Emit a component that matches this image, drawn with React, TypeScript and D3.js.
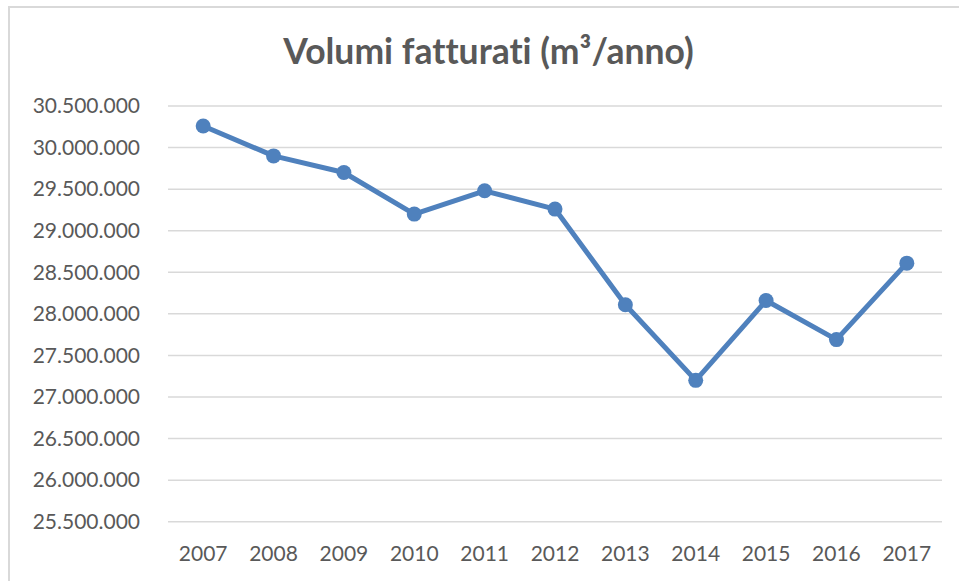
import React, { useRef, useEffect } from 'react';
import * as d3 from 'd3';

const years = ['2007', '2008', '2009', '2010', '2011', '2012', '2013', '2014', '2015', '2016', '2017'];
const volumes = [30260000, 29900000, 29700000, 29200000, 29480000, 29260000, 28110000, 27200000, 28160000, 27690000, 28610000];
const yTicks = [25500000, 26000000, 26500000, 27000000, 27500000, 28000000, 28500000, 29000000, 29500000, 30000000, 30500000];

const itLocale = d3.formatLocale({ decimal: ',', thousands: '.', grouping: [3], currency: ['€', ''] });
const fmt = itLocale.format(',d');

export default function App() {
    const ref = useRef<SVGSVGElement>(null);

    useEffect(() => {
        const svg = d3.select(ref.current);
        svg.selectAll('*').remove();

        const width = 959;
        const height = 581;
        const marginLeft = 168;
        const marginRight = 17;
        const plotTop = 106;
        const plotBottom = 521.7;
        const textColor = '#595959';
        const font = 'Lato, "Open Sans", sans-serif';

        svg.attr('width', width).attr('height', height);

        // chart frame (runs off the right/bottom edge in the reference)
        svg.append('rect')
            .attr('x', 9)
            .attr('y', 7)
            .attr('width', width + 20)
            .attr('height', height + 20)
            .attr('fill', 'white')
            .attr('stroke', '#d9d9d9')
            .attr('stroke-width', 2);

        const x = d3.scaleBand<string>()
            .domain(years)
            .range([marginLeft, width - marginRight]);

        const y = d3.scaleLinear()
            .domain([yTicks[0], yTicks[yTicks.length - 1]])
            .range([plotBottom, plotTop]);

        // title
        const title = svg.append('text')
            .attr('x', 488.5)
            .attr('y', 64)
            .attr('text-anchor', 'middle')
            .attr('fill', textColor)
            .attr('font-family', font)
            .attr('font-weight', 'bold')
            .attr('font-size', 35.5)
            .style('font-variant-ligatures', 'none');
        title.append('tspan').text('Volumi fatturati (m');
        title.append('tspan').text('³');
        title.append('tspan').text('/anno)');

        // gridlines
        svg.append('g')
            .selectAll('line')
            .data(yTicks)
            .join('line')
            .attr('x1', marginLeft)
            .attr('x2', width - marginRight)
            .attr('y1', d => y(d))
            .attr('y2', d => y(d))
            .attr('stroke', '#d9d9d9')
            .attr('stroke-width', 1.5);

        // y labels
        svg.append('g')
            .selectAll('text')
            .data(yTicks)
            .join('text')
            .attr('x', 140)
            .attr('y', d => y(d))
            .attr('dy', '0.35em')
            .attr('text-anchor', 'end')
            .attr('fill', textColor)
            .attr('font-family', font)
            .attr('font-size', 21)
            .text(d => fmt(d));

        // x labels
        svg.append('g')
            .selectAll('text')
            .data(years)
            .join('text')
            .attr('x', d => (x(d) as number) + x.bandwidth() / 2)
            .attr('y', 561)
            .attr('text-anchor', 'middle')
            .attr('fill', textColor)
            .attr('font-family', font)
            .attr('font-size', 21)
            .text(d => d);

        const pts = years.map((yr, i) => ({ yr, v: volumes[i] }));
        const line = d3.line<{ yr: string; v: number }>()
            .x(d => (x(d.yr) as number) + x.bandwidth() / 2)
            .y(d => y(d.v));

        svg.append('path')
            .datum(pts)
            .attr('d', line)
            .attr('fill', 'none')
            .attr('stroke', '#4f81bd')
            .attr('stroke-width', 5)
            .attr('stroke-linejoin', 'round');

        svg.append('g')
            .selectAll('circle')
            .data(pts)
            .join('circle')
            .attr('cx', d => (x(d.yr) as number) + x.bandwidth() / 2)
            .attr('cy', d => y(d.v))
            .attr('r', 7.5)
            .attr('fill', '#4f81bd');
    }, []);

    return <svg ref={ref} style={{ position: 'absolute', left: 0, top: 0, display: 'block' }} />;
}
